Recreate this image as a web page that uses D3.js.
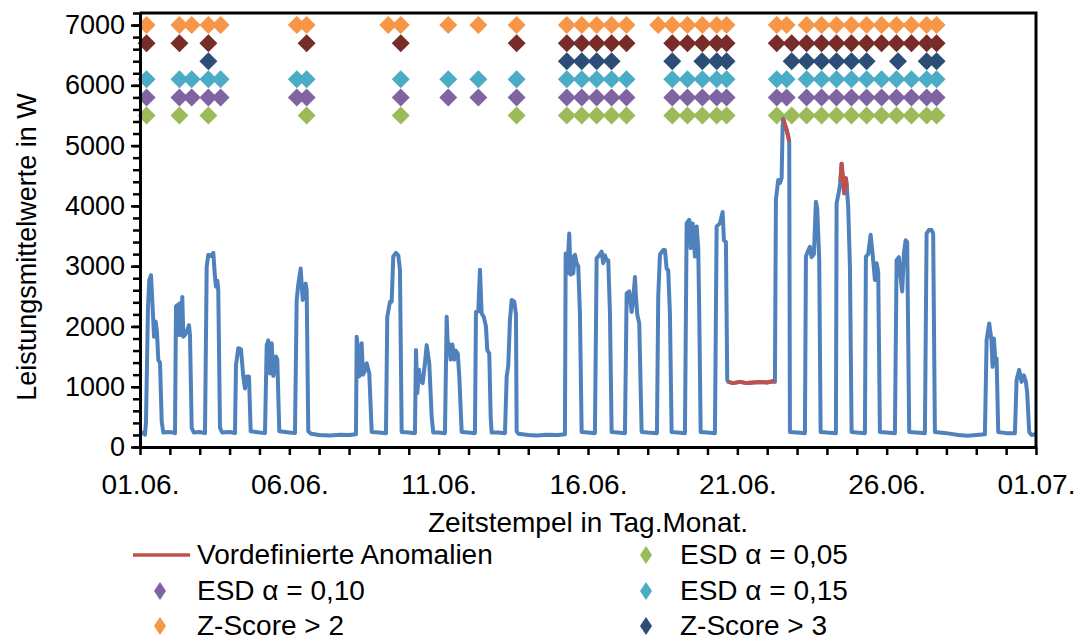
<!DOCTYPE html>
<html>
<head>
<meta charset="utf-8">
<script src="https://cdn.jsdelivr.net/npm/d3@7"></script>
<style>
body{margin:0;background:#fff}
text{font-family:"Liberation Sans",Arial,sans-serif;fill:#000}
</style>
</head>
<body>
<svg id="main_svg" width="1087" height="641"></svg>
<script>
// Zeit in Tagen ab 01.06. 00:00, Leistung in W
let power_series = [
    [0,240],[0.10,235],[0.167,205],[0.201,420],[0.268,2330],[0.311,2770],[0.368,2850],[0.425,2300],[0.469,1830],[0.526,2080],[0.569,1900],[0.613,1440],[0.670,1400],[0.727,420],[0.780,240],[0.95,250],[1.10,240],[1.172,230],
    [1.205,2330],[1.239,2350],[1.282,1860],[1.316,2380],[1.363,1860],[1.416,2490],[1.450,1830],[1.507,1860],[1.584,1940],[1.640,2020],[1.674,1850],[1.731,320],[1.80,240],[2.0,250],[2.176,230],
    [2.233,2990],[2.287,3190],[2.37,3170],[2.454,3220],[2.511,2820],[2.544,2660],[2.588,2760],[2.621,2600],[2.678,320],[2.75,240],[3.0,250],[3.180,230],
    [3.214,1360],[3.291,1640],[3.381,1620],[3.458,1170],[3.515,970],[3.572,1170],[3.649,1170],[3.706,260],[4.0,240],[4.185,230],
    [4.242,1690],[4.295,1770],[4.352,1220],[4.409,1720],[4.463,1180],[4.553,1500],[4.597,1450],[4.664,260],[5.0,240],[5.189,230],
    [5.246,2440],[5.300,2700],[5.380,2960],[5.447,2440],[5.490,2600],[5.547,2710],[5.581,2600],[5.634,260],[5.725,220],[6.0,200],[6.36,190],[6.7,205],[7.0,200],[7.231,210],
    [7.255,1830],[7.282,1700],[7.342,1170],[7.422,1720],[7.466,1200],[7.516,1250],[7.590,1390],[7.677,1220],[7.757,250],[8.0,240],[8.236,230],
    [8.279,2160],[8.370,2410],[8.426,2410],[8.480,3160],[8.570,3220],[8.648,3180],[8.704,2940],[8.761,250],[9.0,240],[9.206,230],
    [9.240,1610],[9.283,890],[9.340,1280],[9.384,1100],[9.464,1060],[9.541,1390],[9.598,1690],[9.685,1390],[9.766,500],[9.819,240],[10.0,240],[10.211,230],
    [10.268,2160],[10.30,1750],[10.35,1700],[10.40,1450],[10.46,1700],[10.52,1450],[10.57,1600],[10.64,1550],[10.69,1170],[10.77,250],[11.0,240],[11.215,230],
    [11.249,2240],[11.326,2250],[11.383,2940],[11.439,2220],[11.516,2150],[11.583,2000],[11.627,1610],[11.694,1550],[11.741,500],[11.774,240],[12.0,240],[12.220,230],
    [12.277,1170],[12.330,1350],[12.387,2110],[12.444,2440],[12.531,2410],[12.588,2200],[12.611,260],[12.665,220],[13.0,200],[13.3,190],[13.6,205],[14.0,200],[14.228,210],
    [14.252,3210],[14.305,2880],[14.372,3540],[14.419,2860],[14.452,3160],[14.506,2880],[14.563,3190],[14.620,3050],[14.673,3000],[14.730,2220],[14.787,250],[15.0,240],[15.232,230],
    [15.289,3130],[15.377,3180],[15.457,3240],[15.510,3050],[15.567,3180],[15.624,3100],[15.678,3100],[15.735,2220],[15.791,250],[16.0,240],[16.237,230],
    [16.294,2550],[16.381,2580],[16.462,2240],[16.515,2450],[16.572,2820],[16.605,2500],[16.649,2200],[16.716,2050],[16.796,250],[17.0,240],[17.308,230],
    [17.352,2500],[17.409,3190],[17.519,3270],[17.576,3270],[17.633,2960],[17.686,2930],[17.743,2220],[17.800,250],[18.0,240],[18.246,230],
    [18.303,3710],[18.390,3770],[18.437,3300],[18.504,3710],[18.581,3160],[18.638,3660],[18.691,3300],[18.725,2220],[18.772,250],[19.0,240],[19.250,230],
    [19.307,3660],[19.417,3710],[19.508,3900],[19.551,3430],[19.618,3400],[19.662,1110],
    [19.695,1080],[19.853,1060],[20.087,1080],[20.311,1060],[20.535,1070],[20.757,1080],[20.981,1070],[21.202,1090],[21.259,1080],
    [21.292,4100],[21.369,4430],[21.426,4380],[21.483,4460],[21.516,5310],[21.536,5450],[21.593,5350],[21.650,5260],[21.704,5150],[21.737,5070],[21.761,250],[22.0,240],[22.263,230],
    [22.297,3160],[22.364,3250],[22.431,3320],[22.487,3150],[22.564,3200],[22.631,4070],[22.675,3950],[22.742,3100],[22.789,250],[23.0,240],[23.301,230],
    [23.324,4040],[23.411,4260],[23.451,4400],[23.491,4700],[23.545,4400],[23.578,4210],[23.635,4460],[23.668,4300],[23.712,3990],[23.770,2990],[23.826,250],[24.0,240],[24.272,230],
    [24.305,3160],[24.383,3200],[24.463,3520],[24.530,3200],[24.607,2770],[24.664,3050],[24.717,2900],[24.774,250],[25.0,240],[25.276,230],
    [25.333,3100],[25.410,3150],[25.467,2820],[25.520,2580],[25.577,3210],[25.634,3430],[25.687,3400],[25.755,250],[26.0,240],[26.280,230],
    [26.337,3540],[26.413,3600],[26.504,3600],[26.557,3540],[26.615,250],[27.0,230],[27.4,200],[27.7,185],[28.0,200],[28.289,210],
    [28.347,1780],[28.434,2050],[28.508,1780],[28.546,1330],[28.590,1800],[28.634,1470],[28.681,1470],[28.735,250],[29.0,230],[29.294,230],
    [29.350,1110],[29.437,1280],[29.518,1080],[29.595,1190],[29.662,1080],[29.705,900],[29.772,250],[29.85,200],[30.0,210]
]

// Zeitraeume der vordefinierten Anomalien (Tage)
let anomaly_ranges = [[19.69, 21.26], [21.53, 21.74], [23.45, 23.67]]

// erkannte Anomalien (Tage), je Methode
let z2_days = [0.22,1.32,1.73,2.29,2.70,5.25,5.58,8.31,8.73,10.32,11.33,12.61,14.29,14.79,15.29,15.79,16.29,17.35,17.82,18.33,18.83,19.31,19.64,21.32,21.65,22.32,22.82,23.32,23.82,24.33,24.83,25.33,25.83,26.34,26.67]
let z25_days = [0.22,1.32,2.29,5.58,8.73,12.61,14.29,14.79,15.29,15.79,16.29,17.82,18.33,18.83,19.31,19.64,21.32,21.82,22.32,22.82,23.32,23.82,24.33,24.83,25.33,25.83,26.34,26.67]
let z3_days = [2.29,14.29,14.79,15.29,15.79,17.82,18.83,19.31,19.64,21.82,22.32,22.82,23.32,23.82,24.33,25.38,26.34,26.67]
let esd15_days = [0.22,1.32,1.73,2.29,2.70,5.25,5.58,8.73,10.32,11.33,12.61,14.29,14.79,15.29,15.79,16.29,17.82,18.33,18.83,19.31,19.64,21.32,21.65,22.32,22.82,23.32,23.82,24.33,24.83,25.33,25.83,26.34,26.67]
let esd10_days = [0.22,1.32,1.73,2.29,2.70,5.25,5.58,8.73,10.32,11.33,12.61,14.29,14.79,15.29,15.79,16.29,17.82,18.33,18.83,19.31,19.64,21.32,21.65,22.32,22.82,23.32,23.82,24.33,24.83,25.33,25.83,26.34,26.67]
let esd05_days = [0.22,1.32,2.29,5.58,8.73,12.61,14.29,14.79,15.29,15.79,16.29,17.82,18.33,18.83,19.31,19.64,21.32,21.82,22.32,22.82,23.32,23.82,24.33,24.83,25.33,25.83,26.34,26.67]

// Hoehe der Markerreihen in W
let marker_levels = [7000, 6700, 6400, 6100, 5800, 5500]

let x_tick_labels = ["01.06.", "06.06.", "11.06.", "16.06.", "21.06.", "26.06.", "01.07."]
let y_tick_values = [0, 1000, 2000, 3000, 4000, 5000, 6000, 7000]

let legend_labels = ["Vordefinierte Anomalien", "ESD \u03b1 = 0,05", "ESD \u03b1 = 0,10", "ESD \u03b1 = 0,15", "Z-Score > 2", "Z-Score > 3"]

let colors = {
    line: "#4F81BD",
    anomaly: "#C0504D",
    z2: "#F79646",
    z25: "#772C2A",
    z3: "#2C4D75",
    esd15: "#4BACC6",
    esd10: "#8064A2",
    esd05: "#9BBB59"
}

let svg = d3.select("#main_svg")
let x = d3.scaleLinear().domain([0, 30]).range([140, 1036])
let y = d3.scaleLinear().domain([0, 7200]).range([447, 13])

function draw_markers(days, level, color){
    let diamond = d3.symbol().type(d3.symbolSquare).size(162)
    svg.append("g")
        .selectAll("path")
        .data(days)
        .join("path")
        .attr("d", diamond)
        .attr("fill", color)
        .attr("transform", d => "translate(" + x(d) + "," + y(level) + ") rotate(45)")
}

draw_markers(z2_days, marker_levels[0], colors.z2)
draw_markers(z25_days, marker_levels[1], colors.z25)
draw_markers(z3_days, marker_levels[2], colors.z3)
draw_markers(esd15_days, marker_levels[3], colors.esd15)
draw_markers(esd10_days, marker_levels[4], colors.esd10)
draw_markers(esd05_days, marker_levels[5], colors.esd05)

let line = d3.line()
    .x(d => x(d[0]))
    .y(d => y(d[1]))

svg.append("path")
    .datum(power_series)
    .attr("d", line)
    .attr("fill", "none")
    .attr("stroke", colors.line)
    .attr("stroke-width", 4)
    .attr("stroke-linejoin", "round")

anomaly_ranges.forEach(function(r){
    let part = power_series.filter(d => d[0] >= r[0] && d[0] <= r[1])
    svg.append("path")
        .datum(part)
        .attr("d", line)
        .attr("fill", "none")
        .attr("stroke", colors.anomaly)
        .attr("stroke-width", 4)
        .attr("stroke-linejoin", "round")
})

// Rahmen oben und rechts
svg.append("path")
    .attr("d", "M" + x.range()[0] + "," + y.range()[1] + "H" + x.range()[1] + "V" + y.range()[0])
    .attr("fill", "none")
    .attr("stroke", "#000")
    .attr("stroke-width", 3)

// y-Achse: kleine Striche alle 200 W, beschriftet alle 1000 W
let y_minor = svg.append("g")
    .attr("transform", "translate(" + x.range()[0] + ",0)")
    .call(d3.axisLeft(y).tickValues(d3.range(0, 7201, 200)).tickSize(7).tickSizeOuter(0).tickFormat(""))
y_minor.select(".domain").remove()

let y_axis = svg.append("g")
    .attr("transform", "translate(" + x.range()[0] + ",0)")
    .call(d3.axisLeft(y).tickValues(y_tick_values).tickSize(9).tickSizeOuter(0).tickPadding(6).tickFormat(d3.format("d")))

let x_axis = svg.append("g")
    .attr("transform", "translate(0," + y.range()[0] + ")")
    .call(d3.axisBottom(x)
        .tickValues(d3.range(0, 31))
        .tickSize(8)
        .tickSizeOuter(0)
        .tickPadding(19)
        .tickFormat(d => d % 5 == 0 ? x_tick_labels[d / 5] : ""))

svg.selectAll(".domain").attr("stroke-width", 3)
svg.selectAll(".tick line").attr("stroke-width", 2.5)
y_axis.selectAll("text").style("font-size", "27px")
x_axis.selectAll("text").style("font-size", "28px")

svg.append("text")
    .attr("transform", "translate(36,247) rotate(-90)")
    .attr("text-anchor", "middle")
    .style("font-size", "27px")
    .text("Leistungsmittelwerte in W")

svg.append("text")
    .attr("x", (x.range()[0] + x.range()[1]) / 2)
    .attr("y", 532)
    .attr("text-anchor", "middle")
    .style("font-size", "28px")
    .text("Zeitstempel in Tag.Monat.")

// Legende, zwei Spalten
let legend_items = [
    {label: legend_labels[0], color: colors.anomaly, type: "line", col: 0, row: 0},
    {label: legend_labels[1], color: colors.esd05, type: "marker", col: 1, row: 0},
    {label: legend_labels[2], color: colors.esd10, type: "marker", col: 0, row: 1},
    {label: legend_labels[3], color: colors.esd15, type: "marker", col: 1, row: 1},
    {label: legend_labels[4], color: colors.z2, type: "marker", col: 0, row: 2},
    {label: legend_labels[5], color: colors.z3, type: "marker", col: 1, row: 2}
]
let legend_x = [133, 620]
let legend_y = [555, 591, 626]

let legend = svg.append("g")
    .selectAll("g")
    .data(legend_items)
    .join("g")
    .attr("transform", d => "translate(" + legend_x[d.col] + "," + legend_y[d.row] + ")")

legend.filter(d => d.type == "line")
    .append("line")
    .attr("x1", 0)
    .attr("x2", 57)
    .attr("stroke", d => d.color)
    .attr("stroke-width", 3.5)

legend.filter(d => d.type == "marker")
    .append("path")
    .attr("d", "M0,-9L6,0L0,9L-6,0Z")
    .attr("transform", d => "translate(" + (d.col == 0 ? 27 : 26) + ",0)")
    .attr("fill", d => d.color)

legend.append("text")
    .attr("x", d => d.col == 0 ? 64 : 60)
    .attr("y", 9)
    .style("font-size", "28px")
    .text(d => d.label)
</script>
</body>
</html>
